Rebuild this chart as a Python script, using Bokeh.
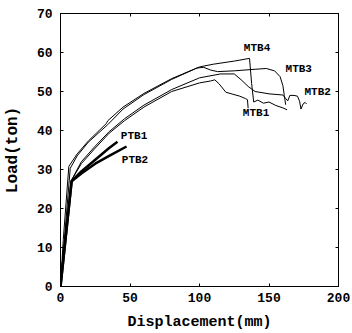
from bokeh.plotting import figure
from bokeh.models import Range1d, FixedTicker, LinearAxis
from bokeh.core.properties import value
from bokeh.embed import file_html
from bokeh.resources import INLINE

# Data (Displacement mm, Load ton)
mtb4_x = [0, 2, 6, 12, 20, 33, 34, 45, 60, 80, 100, 110, 125, 136, 137.5, 139, 142, 146, 150, 155, 160, 163]
mtb4_y = [0, 12, 30.8, 34, 37.3, 41.8, 42.5, 46, 49.5, 53.3, 56.3, 57, 57.8, 58.5, 52, 47.3, 47.8, 47, 47.3, 46.4, 45.8, 45.3]

mtb3_x = [0, 7, 12, 20, 34, 45, 60, 80, 98, 103, 108, 113, 125, 140, 148, 154, 158, 160, 161, 162]
mtb3_y = [0, 30.3, 33.5, 37, 41.5, 45.5, 49.2, 53.1, 56, 56.2, 55.5, 55.1, 55.3, 55.7, 55.9, 55.3, 53.8, 51.5, 49, 46.6]

mtb2_x = [0, 8, 15, 25, 35, 46, 60, 80, 100, 115, 125, 130, 135, 140, 150, 160, 162, 163.5, 165, 168, 170.5, 172, 173, 174.5, 176, 177]
mtb2_y = [0, 27.3, 32, 36, 39.7, 43, 46.5, 50.5, 53.5, 54.5, 54.5, 53, 51.3, 50, 49.4, 49.1, 48.2, 47.6, 49, 49, 48.8, 47.5, 45.5, 46.8, 47.2, 46.8]

mtb1_x = [0, 8, 15, 25, 35, 46, 60, 80, 100, 108, 111, 114, 119, 124, 129, 133, 134.5, 135]
mtb1_y = [0, 27.3, 31.5, 35.5, 39.3, 42.5, 46, 50, 52.2, 52.7, 53, 52, 49.8, 49.3, 48.8, 48.2, 47.9, 45.7]

ptb1_x = [0, 8, 15, 25, 35, 41]
ptb1_y = [0, 27, 29.5, 32.5, 35.5, 37.1]

ptb2_x = [0, 8, 15, 25, 35, 47.5]
ptb2_y = [0, 27, 29, 31.5, 33.5, 35.9]

label_text = ["MTB4", "MTB3", "MTB2", "MTB1", "PTB1", "PTB2"]
label_x = [141.4, 171.4, 185, 140.7, 52.9, 53.6]
label_y = [61.1, 55.85, 49.75, 44.5, 38.6, 32.4]

x_ticks = [0, 50, 100, 150, 200]
y_ticks = [0, 10, 20, 30, 40, 50, 60, 70]

FONT = "Liberation Mono"

p = figure(width=352, height=333,
           output_backend="svg", toolbar_location=None,
           x_range=Range1d(0, 200), y_range=Range1d(0, 70),
           min_border_left=58, min_border_right=14, min_border_top=13, min_border_bottom=47)

p.grid.visible = False
p.outline_line_color = "black"
p.outline_line_width = 1
p.background_fill_color = "white"
p.border_fill_color = "white"

for ax in [p.xaxis[0], p.yaxis[0]]:
    ax.major_tick_in = 3
    ax.major_tick_out = 0
    ax.minor_tick_in = 0
    ax.minor_tick_out = 0
    ax.axis_line_color = "black"
    ax.major_tick_line_color = "black"
    ax.major_label_text_font = FONT
    ax.major_label_text_font_style = "bold"
    ax.major_label_text_font_size = "13px"
    ax.major_label_text_color = "black"
    ax.axis_label_text_font = FONT
    ax.axis_label_text_font_style = "bold"
    ax.axis_label_text_color = "black"

p.xaxis[0].axis_label_text_font_size = "15px"
p.yaxis[0].axis_label_text_font_size = "16px"
p.xaxis[0].ticker = FixedTicker(ticks=x_ticks)
p.yaxis[0].ticker = FixedTicker(ticks=y_ticks)
p.xaxis[0].axis_label = "Displacement(mm)"
p.yaxis[0].axis_label = "Load(ton)"
p.xaxis[0].major_label_standoff = 6
p.yaxis[0].major_label_standoff = 8
p.xaxis[0].axis_label_standoff = 9
p.yaxis[0].axis_label_standoff = 12

ra = LinearAxis(ticker=FixedTicker(ticks=y_ticks),
                major_label_overrides={t: "" for t in y_ticks},
                major_tick_in=3, major_tick_out=0, minor_tick_in=0, minor_tick_out=0)
ta = LinearAxis(ticker=FixedTicker(ticks=x_ticks),
                major_label_overrides={t: "" for t in x_ticks},
                major_tick_in=3, major_tick_out=0, minor_tick_in=0, minor_tick_out=0)
ra.major_label_standoff = 0
ta.major_label_standoff = 0
p.add_layout(ra, "right")
p.add_layout(ta, "above")

p.line(mtb4_x, mtb4_y, line_color="black", line_width=1)
p.line(mtb3_x, mtb3_y, line_color="black", line_width=1)
p.line(mtb2_x, mtb2_y, line_color="black", line_width=1)
p.line(mtb1_x, mtb1_y, line_color="black", line_width=1)
p.line(ptb1_x, ptb1_y, line_color="black", line_width=2.5)
p.line(ptb2_x, ptb2_y, line_color="black", line_width=2.5)

p.text(x=label_x, y=label_y, text=label_text, text_font=value(FONT), text_font_style="bold",
       text_font_size="11px", text_align="center", text_baseline="middle", text_color="black")

open("out.html", "w").write(file_html(p, INLINE))
